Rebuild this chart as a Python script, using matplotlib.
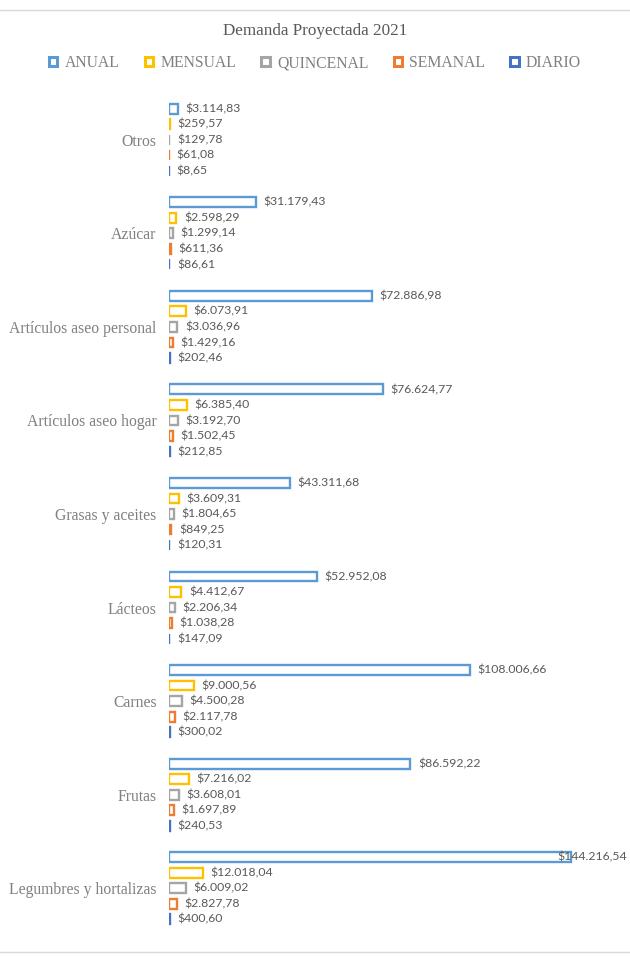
"""Demanda Proyectada 2021: horizontal grouped bar chart (hollow bars)."""

import matplotlib
matplotlib.use("Agg")
import matplotlib.pyplot as plt
import numpy as np
from matplotlib.patches import Rectangle

CATEGORIES = ["Otros", "Azúcar", "Artículos aseo personal", "Artículos aseo hogar",
              "Grasas y aceites", "Lácteos", "Carnes", "Frutas", "Legumbres y hortalizas"]
SERIES = ["ANUAL", "MENSUAL", "QUINCENAL", "SEMANAL", "DIARIO"]

ANUAL = [3114.83, 31179.43, 72886.98, 76624.77, 43311.68, 52952.08, 108006.66, 86592.22, 144216.54]
MENSUAL = [259.57, 2598.29, 6073.91, 6385.40, 3609.31, 4412.67, 9000.56, 7216.02, 12018.04]
QUINCENAL = [129.78, 1299.14, 3036.96, 3192.70, 1804.65, 2206.34, 4500.28, 3608.01, 6009.02]
SEMANAL = [61.08, 611.36, 1429.16, 1502.45, 849.25, 1038.28, 2117.78, 1697.89, 2827.78]
DIARIO = [8.65, 86.61, 202.46, 212.85, 120.31, 147.09, 300.02, 240.53, 400.60]

COLORS = ["#5B9BD5", "#FFC000", "#A5A5A5", "#ED7D31", "#4472C4"]
TEXT_GRAY = "#595959"
CAT_GRAY = "#808080"


def fmt(v):
    s = f"{v:,.2f}"
    s = s.replace(",", "X").replace(".", ",").replace("X", ".")
    return "$" + s


def main():
    values = [ANUAL, MENSUAL, QUINCENAL, SEMANAL, DIARIO]
    fig = plt.figure(figsize=(6.3, 9.56), dpi=100)
    ax = fig.add_axes([169 / 630, 1 - 935 / 956, (615 - 169) / 630, (935 - 93) / 956])

    n = len(CATEGORIES)
    y = np.arange(n)[::-1].astype(float)  # Otros on top
    step = 0.166
    height = 0.105
    xmax = 160000

    for i, (name, vals, col) in enumerate(zip(SERIES, values, COLORS)):
        yy = y + (2 - i) * step
        ax.barh(yy, vals, height=height, facecolor="white", edgecolor=col,
                linewidth=1.7, label=name)
        for v, yv in zip(vals, yy):
            txt = fmt(v)
            if v > 0.85 * xmax:
                ax.text(1.0 + 12 / 446, yv, txt, transform=ax.get_yaxis_transform(),
                        ha="right", va="center", fontsize=8.8, family="Lato", color=TEXT_GRAY)
            else:
                ax.annotate(txt, xy=(v, yv), xytext=(5.5, 0), textcoords="offset points",
                            ha="left", va="center", fontsize=8.8, family="Lato",
                            color=TEXT_GRAY)

    ax.set_xlim(0, xmax)
    ax.set_ylim(-0.5, n - 0.5)
    ax.set_yticks(y)
    ax.set_yticklabels(CATEGORIES, family="Liberation Serif", fontsize=11.3, color=CAT_GRAY)
    ax.tick_params(axis="y", length=0, pad=9)
    ax.set_xticks([])
    for sp in ax.spines.values():
        sp.set_visible(False)

    fig.text(0.5, 1 - 31 / 956, "Demanda Proyectada 2021", ha="center", va="center",
             family="Liberation Serif", fontsize=12.3, color=TEXT_GRAY)

    handles, labels = ax.get_legend_handles_labels()
    leg = fig.legend(handles, labels, loc="center", bbox_to_anchor=(0.5, 1 - 63 / 956),
                     ncol=5, frameon=False, handlelength=0.55, handleheight=0.55,
                     columnspacing=1.6, handletextpad=0.45,
                     prop={"family": "Liberation Serif", "size": 11.3})
    for t in leg.get_texts():
        t.set_color(CAT_GRAY)
    for h in leg.legend_handles:
        h.set_linewidth(2.2)

    # chart frame lines
    fig.add_artist(Rectangle((-0.01, 1 - 952 / 956), 1.02, (952 - 10) / 956,
                             transform=fig.transFigure, fill=False,
                             edgecolor="#D9D9D9", linewidth=1.0))

    fig.savefig("out.png", dpi=100)
    plt.close(fig)


if __name__ == "__main__":
    main()
